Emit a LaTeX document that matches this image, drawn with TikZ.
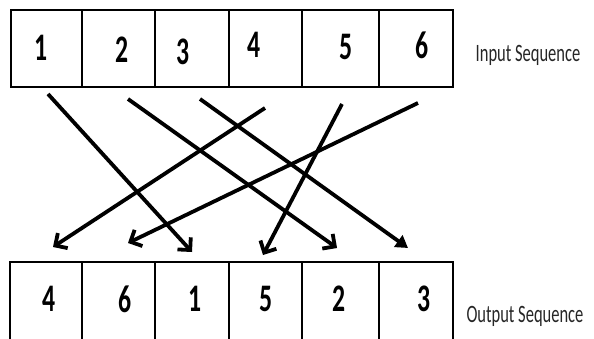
\documentclass[tikz,border=0pt]{standalone}
\usepackage{fontspec}
\setmainfont{Carlito}
\newfontfamily\seqfont[FakeStretch=0.66]{Carlito}
\usetikzlibrary{arrows.meta}
\tikzset{
  every picture/.style={x=1pt, y=-1pt},
  cell/.style={draw, line width=1.6pt, minimum width=#1, minimum height=77pt, inner sep=0pt},
  digit/.style={font=\seqfont\bfseries\fontsize{39}{39}\selectfont, inner sep=0pt},
  seqlabel/.style={font=\seqfont\fontsize{25}{25}\selectfont, text=black!85, inner sep=0pt, anchor=base},
  perm/.style={-{Straight Barb[length=9pt, width=18pt]}, line width=3.8pt},
}

\begin{document}
\begin{tikzpicture}
  \clip (0,0) rectangle (594,339);
  % input row
  \node[cell=71pt] (in1) at (46.5,48.5) {};
  \node[cell=73pt] (in2) at (118.5,48.5) {};
  \node[cell=74pt] (in3) at (192,48.5) {};
  \node[cell=73pt] (in4) at (265.5,48.5) {};
  \node[cell=77pt] (in5) at (340.5,48.5) {};
  \node[cell=74pt] (in6) at (416,48.5) {};
  \node[digit] (d1) at (41,48) {1};
  \node[digit] (d2) at (122,50) {2};
  \node[digit] (d3) at (183,52) {3};
  \node[digit] (d4) at (254,45) {4};
  \node[digit] (d5) at (346,47) {5};
  \node[digit] (d6) at (422,45) {6};
  \node[seqlabel] (inlab) at (528,62) {Input Sequence};
  % output row
  \node[cell=72pt, minimum height=90pt] (out1) at (46,307) {};
  \node[cell=73pt, minimum height=90pt] (out2) at (118.5,307) {};
  \node[cell=74pt, minimum height=90pt] (out3) at (192,307) {};
  \node[cell=73pt, minimum height=90pt] (out4) at (265.5,307) {};
  \node[cell=77pt, minimum height=90pt] (out5) at (340.5,307) {};
  \node[cell=74pt, minimum height=90pt] (out6) at (416,307) {};
  \node[digit] (e1) at (49,299) {4};
  \node[digit] (e2) at (125,299) {6};
  \node[digit] (e3) at (195,299) {1};
  \node[digit] (e4) at (266,299) {5};
  \node[digit] (e5) at (339,299) {2};
  \node[digit] (e6) at (424,299) {3};
  \node[seqlabel] (outlab) at (525,322) {Output Sequence};
  % permutation arrows
  \coordinate (s1) at (48,94);   \coordinate (t1) at (192,252);
  \coordinate (s2) at (128,99);  \coordinate (t2) at (337,248);
  \coordinate (s3) at (200,99);  \coordinate (t3) at (408,248);
  \coordinate (s4) at (265,108); \coordinate (t4) at (53,247);
  \coordinate (s5) at (342,104); \coordinate (t5) at (263,255);
  \coordinate (s6) at (418,103); \coordinate (t6) at (128,243);
  \draw[perm] (s1) -- (t1);
  \draw[perm] (s2) -- (t2);
  \draw[perm, -{Triangle[length=12pt, width=14pt]}] (s3) -- (t3);
  \draw[perm] (s4) -- (t4);
  \draw[perm] (s5) -- (t5);
  \draw[perm] (s6) -- (t6);
\end{tikzpicture}
\end{document}
